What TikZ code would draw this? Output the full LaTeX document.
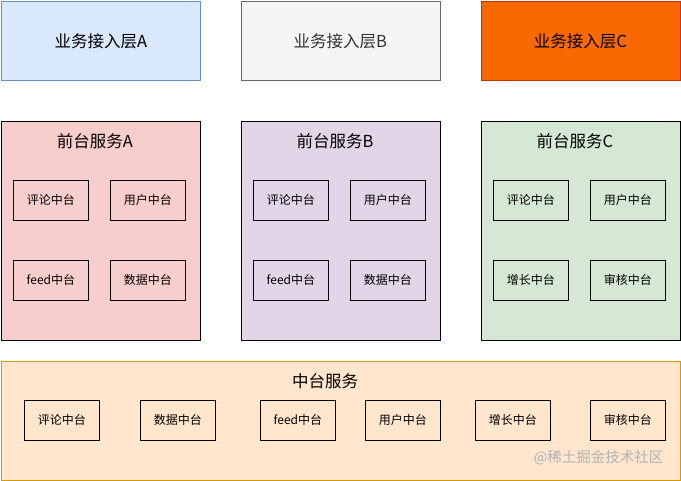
\documentclass[tikz,border=0pt]{standalone}
\usepackage{fontspec}
\setmainfont{Noto Sans CJK SC}
\usetikzlibrary{positioning}
\definecolor{blueFill}{HTML}{DAE8FC}
\definecolor{blueLine}{HTML}{6C8EBF}
\definecolor{greyFill}{HTML}{F5F5F5}
\definecolor{greyLine}{HTML}{666666}
\definecolor{greyText}{HTML}{333333}
\definecolor{orangeFill}{HTML}{FA6800}
\definecolor{orangeLine}{HTML}{C73500}
\definecolor{redFill}{HTML}{F8CECC}
\definecolor{purpleFill}{HTML}{E1D5E7}
\definecolor{greenFill}{HTML}{D5E8D4}
\definecolor{peachFill}{HTML}{FFE6CC}
\definecolor{peachLine}{HTML}{D79B00}
\tikzset{
  layer/.style={draw, anchor=north west, inner sep=0pt, line width=0.8pt,
    minimum width=199pt, minimum height=79pt, font=\fontsize{16.5}{19}\selectfont},
  front/.style={draw=black, anchor=north west, inner sep=0pt, line width=0.8pt,
    minimum width=199pt, minimum height=219pt},
  title/.style={font=\fontsize{16.5}{19}\selectfont},
  part/.style={draw=black, anchor=north west, inner sep=0pt, line width=0.8pt,
    minimum width=75pt, minimum height=40pt, font=\fontsize{12}{14}\selectfont},
}
\begin{document}
\begin{tikzpicture}[x=1pt,y=-1pt]
\useasboundingbox (0,0) rectangle (681,481);
% access layers
\node[layer, fill=blueFill, draw=blueLine] (accA) at (1,1) {业务接入层A};
\node[layer, fill=greyFill, draw=greyLine, text=greyText] (accB) at (240.5,1) {业务接入层B};
\node[layer, fill=orangeFill, draw=orangeLine] (accC) at (480.5,1) {业务接入层C};
% front services
\node[front, fill=redFill] (srvA) at (1,121) {};
\node[front, fill=purpleFill] (srvB) at (240.5,121) {};
\node[front, fill=greenFill] (srvC) at (480.5,121) {};
\node[title] (tA) at (95,141) {前台服务A};
\node[title] (tB) at (335,141) {前台服务B};
\node[title] (tC) at (575,141) {前台服务C};
\foreach \name/\x in {A/13,B/253} {
  \node[part] (\name1) at (\x,180) {评论中台};
  \node[part] (\name2) at (\x+97,180) {用户中台};
  \node[part] (\name3) at (\x,260) {feed中台};
  \node[part] (\name4) at (\x+97,260) {数据中台};
}
\node[part] (C1) at (493,180) {评论中台};
\node[part] (C2) at (590,180) {用户中台};
\node[part] (C3) at (493,260) {增长中台};
\node[part] (C4) at (590,260) {审核中台};
% middle platform
\node[draw=peachLine, fill=peachFill, anchor=north west, inner sep=0pt, line width=0.8pt,
  minimum width=679pt, minimum height=119pt] (mid) at (1,361) {};
\node[title] (tMid) at (325,381) {中台服务};
\foreach \i/\x/\txt in {1/24/评论中台, 2/140/数据中台, 3/260/feed中台,
                        4/365/用户中台, 5/475/增长中台, 6/590/审核中台}
  \node[part] (M\i) at (\x,400) {\txt};
\node[text=black!30, anchor=east, font=\fontsize{14.5}{17}\selectfont] (mark) at (667,458) {@稀土掘金技术社区};
\end{tikzpicture}
\end{document}
